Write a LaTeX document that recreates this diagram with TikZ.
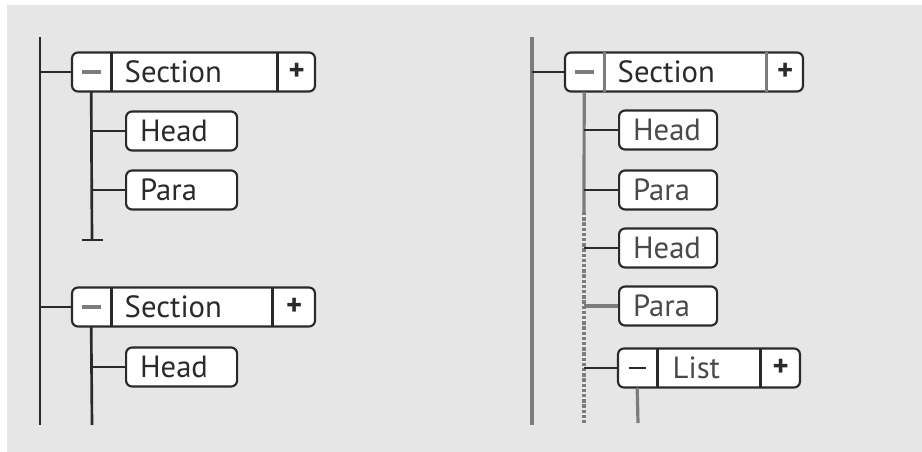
\documentclass[tikz,border=0pt]{standalone}
\usepackage{fontspec}
\setmainfont{PT Sans}
\definecolor{panel}{HTML}{E6E6E6}
\definecolor{ink}{HTML}{2A2A2A}
\definecolor{inkb}{HTML}{4A4A4A}
\definecolor{soft}{HTML}{7C7C7C}
\tikzset{
  box/.style={draw=ink, line width=1.6pt, fill=white, rounded corners=4.5pt,
    minimum height=29.25pt, inner sep=0pt},
  leaf/.style={box, inner xsep=10.5pt, text width=#1, align=left},
  leaf/.default=62pt,
  cell/.style={minimum width=#1, minimum height=29.25pt, inner sep=0pt},
  cell/.default=30pt,
  wire/.style={draw=ink, line width=2pt},
  grey wire/.style={draw=soft, line width=2.4pt},
  dotted wire/.style={draw=soft, line width=2.4pt, dash pattern=on 2.6pt off 1.3pt}
}
\newcommand{\minusbar}{{\color{soft}\rule{14pt}{2.4pt}}}
\newcommand{\plusmark}{\textbf{+}}
\begin{document}
\begin{tikzpicture}[x=0.75pt,y=-0.75pt,
    every node/.style={font=\fontsize{23}{26}\selectfont, text=ink}]
  \useasboundingbox (0,0) rectangle (922,452);
  \fill[panel] (7,5) rectangle (922,452);

  % left tree
  \coordinate (topL) at (40,37);
  \coordinate (botL) at (40,425);
  \coordinate (endA) at (92,240);
  \coordinate (endB) at (92,425);

  \node[box, minimum width=182.25pt] (secA) at (193.5,72) {};
  \node[cell, anchor=west] (secAm) at (secA.west) {\minusbar};
  \node[cell=28.5pt, anchor=east] (secAp) at (secA.east) {\plusmark};
  \node[anchor=west, inner sep=0pt] (secAt) at ([xshift=9.75pt]secAm.east) {Section};

  \node[leaf=62.25pt, anchor=west] (headA) at (125,131) {Head};
  \node[leaf=62.25pt, anchor=west] (paraA) at (125,190) {Para};

  \node[box, minimum width=182.25pt] (secB) at (193.5,307) {};
  \node[cell, anchor=west] (secBm) at (secB.west) {\minusbar};
  \node[cell=32.25pt, anchor=east] (secBp) at (secB.east) {\plusmark};
  \node[anchor=west, inner sep=0pt] (secBt) at ([xshift=9.75pt]secBm.east) {Section};

  \node[leaf=62.25pt, anchor=west] (headB) at (125,367) {Head};

  \draw[wire] (topL) -- (botL);
  \draw[wire] (topL |- secA) -- (secA);
  \draw[wire] (topL |- secB) -- (secB);
  \draw[wire] (secAm.north east) -- (secAm.south east);
  \draw[wire] (secAp.north west) -- (secAp.south west);
  \draw[wire] (secBm.north east) -- (secBm.south east);
  \draw[wire] (secBp.north west) -- (secBp.south west);
  \draw[wire] (secAm.south) -- (endA);
  \draw[wire] ([xshift=-7.5pt]endA) -- ([xshift=8.25pt]endA);
  \draw[wire] (secAm.south |- headA) -- (headA);
  \draw[wire] (secAm.south |- paraA) -- (paraA);
  \draw[wire] (secBm.south) -- (endB);
  \draw[wire] (secBm.south |- headB) -- (headB);

  % right tree
  \coordinate (topR) at (532,37);
  \coordinate (botR) at (532,425);
  \coordinate (solidR) at (584,212);
  \coordinate (endR) at (584,425);
  \coordinate (endL) at (638,423);

  \node[box, minimum width=178.5pt] (secC) at (684,72) {};
  \node[cell, anchor=west] (secCm) at (secC.west) {\minusbar};
  \node[cell=27.75pt, anchor=east] (secCp) at (secC.east) {\plusmark};
  \node[anchor=west, inner sep=0pt] (secCt) at ([xshift=9.75pt]secCm.east) {Section};

  \node[leaf=52.5pt, anchor=west, text=inkb] (headC) at (618,130) {Head};
  \node[leaf=52.5pt, anchor=west, text=inkb] (paraC) at (618,190) {Para};
  \node[leaf=52.5pt, anchor=west, text=inkb] (headD) at (618,248) {Head};
  \node[leaf=52.5pt, anchor=west, text=inkb] (paraD) at (618,306) {Para};

  \node[box, minimum width=136.5pt] (listA) at (709,368) {};
  \node[cell, anchor=west] (listAm) at (listA.west) {{\color{ink}\rule{13pt}{2pt}}};
  \node[cell, anchor=east] (listAp) at (listA.east) {\plusmark};
  \node[anchor=west, inner sep=0pt, text=inkb] (listAt) at ([xshift=11.25pt]listAm.east) {List};

  \draw[grey wire] (topR) -- (botR);
  \draw[wire] (topR |- secC) -- (secC);
  \draw[grey wire, line width=2pt] (secCm.north east) -- (secCm.south east);
  \draw[grey wire, line width=2pt] (secCp.north west) -- (secCp.south west);
  \draw[grey wire] (secCm.south) -- (solidR);
  \draw[dotted wire] (solidR) -- (endR);
  \draw[wire] (secCm.south |- headC) -- (headC);
  \draw[wire] (secCm.south |- paraC) -- (paraC);
  \draw[wire] (secCm.south |- headD) -- (headD);
  \draw[grey wire] (secCm.south |- paraD) -- (paraD);
  \draw[wire] (secCm.south |- listA) -- (listA);
  \draw[wire] (listAm.north east) -- (listAm.south east);
  \draw[wire] (listAp.north west) -- (listAp.south west);
  \draw[grey wire] (listAm.south) -- (endL);
\end{tikzpicture}
\end{document}
